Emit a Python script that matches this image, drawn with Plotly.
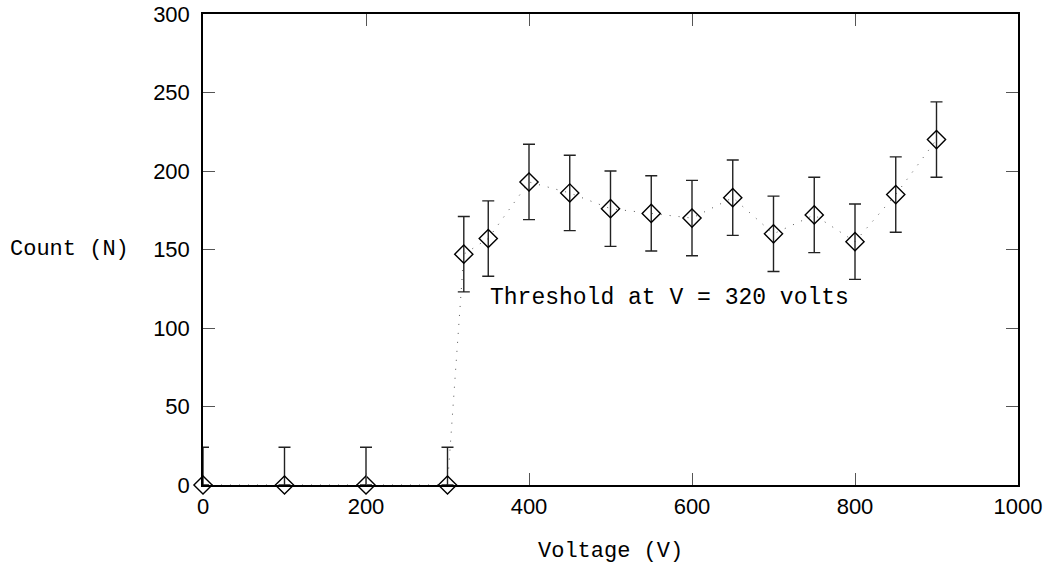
import plotly.graph_objects as go

voltage = [0, 100, 200, 300, 320, 350, 400, 450, 500, 550, 600, 650, 700, 750, 800, 850, 900]
counts = [0, 0, 0, 0, 147, 157, 193, 186, 176, 173, 170, 183, 160, 172, 155, 185, 220]
err_plus = [24, 24, 24, 24, 24, 24, 24, 24, 24, 24, 24, 24, 24, 24, 24, 24, 24]
err_minus = [0, 0, 0, 0, 24, 24, 24, 24, 24, 24, 24, 24, 24, 24, 24, 24, 24]

x_ticks = [0, 200, 400, 600, 800, 1000]
y_ticks = [0, 50, 100, 150, 200, 250, 300]

mono = "Courier New, Liberation Mono, monospace"
sans = "Liberation Sans, Arial, sans-serif"

fig = go.Figure()
fig.add_trace(go.Scatter(
    x=voltage, y=counts, mode="lines",
    line=dict(color="#555555", width=1, dash="1px,8px"),
    hoverinfo="skip", showlegend=False, cliponaxis=False,
))
fig.add_trace(go.Scatter(
    x=voltage, y=counts, mode="markers",
    marker=dict(symbol="diamond-open", size=14, color="black", line=dict(width=1.4, color="black")),
    error_y=dict(type="data", symmetric=False, array=err_plus, arrayminus=err_minus,
                 color="#222222", thickness=1.4, width=6),
    showlegend=False, cliponaxis=False,
))

axis_common = dict(
    showline=True, linecolor="black", linewidth=1.5, mirror="ticks",
    ticks="inside", ticklen=12, tickwidth=1.3, tickcolor="#555555",
    showgrid=False, zeroline=False, automargin=False, ticklabeloverflow="allow",
    tickfont=dict(family=sans, size=22, color="black"),
)

fig.update_layout(
    width=1046, height=567,
    margin=dict(l=203, r=28, t=14, b=82, autoexpand=False),
    paper_bgcolor="white", plot_bgcolor="white",
    xaxis=dict(range=[0, 1000], tickvals=x_ticks, ticklabelstandoff=1, **axis_common),
    yaxis=dict(range=[0, 300], tickvals=y_ticks, ticklabelstandoff=7, **axis_common),
    annotations=[
        dict(x=350, y=119, xref="x", yref="y", text="Threshold at V = 320 volts",
             showarrow=False, xanchor="left", yanchor="middle",
             font=dict(family=mono, size=23, color="black")),
        dict(x=0.5, y=-52/471, xref="paper", yref="paper", text="Voltage (V)",
             showarrow=False, xanchor="center", yanchor="top",
             font=dict(family=mono, size=22, color="black")),
        dict(x=(8 - 203) / 815, y=150, xref="paper", yref="y", text="Count (N)",
             showarrow=False, xanchor="left", yanchor="middle",
             font=dict(family=mono, size=22, color="black")),
    ],
)

fig.write_html("out.html", config={"displayModeBar": False},
               post_script="document.body.style.margin='0';")
